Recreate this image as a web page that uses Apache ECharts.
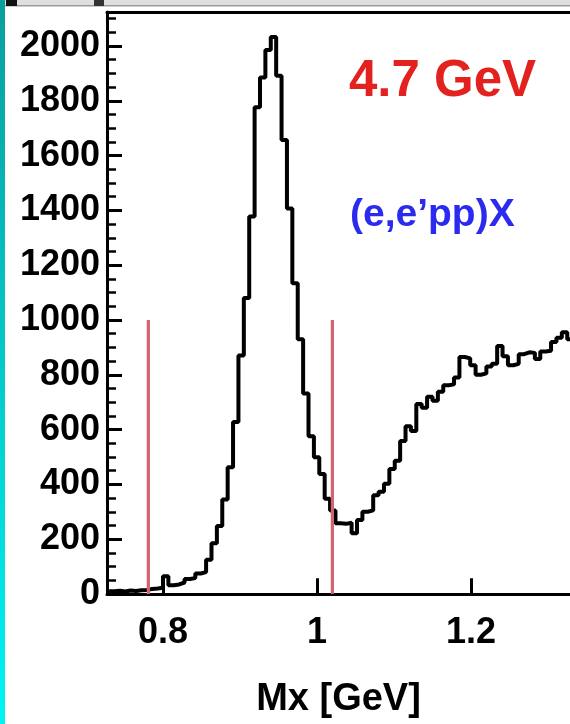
<!DOCTYPE html>
<html>
<head>
<meta charset="utf-8">
<script src="https://cdn.jsdelivr.net/npm/echarts@6/dist/echarts.min.js"></script>
<style>
html,body{margin:0;padding:0;background:#fff;}
#chart{width:570px;height:724px;}
</style>
</head>
<body>
<div id="chart"></div>
<script>
// Histogram of missing mass Mx [GeV] for (e,e'pp)X at 4.7 GeV
const binStart = 0.73;   // GeV, left edge of first visible bin
const binWidth = 0.007;  // GeV
const counts = [
  10, 12, 9, 13, 11, 14, 15, 18, 20, 23,
  65, 32, 35, 42, 55, 58, 75, 80, 125, 185,
  248, 345, 463, 628, 870, 1080, 1378, 1776, 1885, 1985,
  2033, 1891, 1657, 1407, 1134, 930, 732, 576, 499, 438,
  348, 305, 258, 256, 260, 222, 270, 300, 305, 360,
  373, 402, 456, 486, 558, 612, 595, 693, 680, 720,
  705, 738, 762, 765, 790, 865, 860, 835, 800, 805,
  830, 840, 905, 868, 835, 840, 875, 882, 880, 858,
  885, 888, 920, 935, 955, 930
];
const cutLinesX = [0.781, 1.02];
const cutLineHeight = 1000;
const xTickValues = [0.8, 1, 1.2];
const yTickValues = [0, 200, 400, 600, 800, 1000, 1200, 1400, 1600, 1800, 2000];
const yMinorStep = 50;
const xMin = 0.7273, xMax = 1.3286;
const yMin = 0, yMax = 2124;
const beamLabel = '4.7 GeV';
const reactionLabel = '(e,e\u2019pp)X';
const xTitle = 'Mx [GeV]';

const histData = counts.map((c, i) => [binStart + i * binWidth, c]);
histData.push([binStart + counts.length * binWidth, counts[counts.length - 1]]);

const font = '"Liberation Sans", Arial, Helvetica, sans-serif';
const chart = echarts.init(document.getElementById('chart'), null, {renderer: 'canvas'});

// pixel scales of the plot area (only used to express tick lengths in data units)
const plotW = 570 - 107, plotH = 724 - 12 - 122.5;
const xPerPx = (xMax - xMin) / plotW, yPerPx = (yMax - yMin) / plotH;
const xTickLen = 16 * yPerPx, yMajorLen = 15 * xPerPx, yMinorLen = 9 * xPerPx;

const majorTicks = [];
xTickValues.forEach(x => majorTicks.push({coords: [[x, 0], [x, xTickLen]]}));
yTickValues.forEach(y => majorTicks.push({coords: [[xMin, y], [xMin + yMajorLen, y]]}));
const minorTicks = [];
for (let y = yMin + yMinorStep; y < yMax; y += yMinorStep) {
  if (y % 200 !== 0) minorTicks.push({coords: [[xMin, y], [xMin + yMinorLen, y]]});
}

const series = [{
  type: 'line', data: histData, step: 'end', showSymbol: false, symbol: 'none',
  lineStyle: {color: '#000', width: 4}, z: 3, silent: true
}];
cutLinesX.forEach(x => {
  series.push({
    type: 'line', data: [[x, 0], [x, cutLineHeight]], showSymbol: false, symbol: 'none',
    lineStyle: {color: '#d6636b', width: 3.2}, z: 4, silent: true
  });
});
series.push({type: 'lines', coordinateSystem: 'cartesian2d', data: majorTicks,
  lineStyle: {color: '#000', width: 3, opacity: 1}, z: 2, silent: true});
series.push({type: 'lines', coordinateSystem: 'cartesian2d', data: minorTicks,
  lineStyle: {color: '#000', width: 2.5, opacity: 1}, z: 2, silent: true});

chart.setOption({
  animation: false,
  backgroundColor: '#fff',
  grid: {left: 107, right: 0, top: 12, bottom: 122.5, containLabel: false},
  xAxis: [{
    type: 'value', min: xMin, max: xMax, position: 'bottom',
    axisLine: {show: true, onZero: false, lineStyle: {color: '#000', width: 3}},
    axisTick: {show: false},
    axisLabel: {show: true, customValues: xTickValues, margin: 21, color: '#000',
      fontFamily: font, fontWeight: 'bold', fontSize: 36, formatter: v => String(v)},
    splitLine: {show: false},
    name: xTitle, nameLocation: 'middle', nameGap: 87,
    nameTextStyle: {color: '#000', fontFamily: font, fontWeight: 'bold', fontSize: 38}
  }, {
    type: 'value', min: xMin, max: xMax, position: 'top',
    axisLine: {show: true, onZero: false, lineStyle: {color: '#000', width: 3}},
    axisTick: {show: false}, axisLabel: {show: false}, splitLine: {show: false}
  }],
  yAxis: [{
    type: 'value', min: yMin, max: yMax, position: 'left',
    axisLine: {show: true, onZero: false, lineStyle: {color: '#000', width: 3}},
    axisTick: {show: false},
    axisLabel: {show: true, customValues: yTickValues, margin: 7, color: '#000',
      fontFamily: font, fontWeight: 'bold', fontSize: 36, formatter: v => String(v)},
    splitLine: {show: false}
  }],
  graphic: [
    {type: 'rect', shape: {x: 0, y: 0, width: 570, height: 6}, style: {fill: '#dedede'}, z: 10},
    {type: 'rect', shape: {x: 0, y: 5, width: 570, height: 1.5}, style: {fill: '#9a9a9a'}, z: 10},
    {type: 'rect', shape: {x: 6, y: 0, width: 11, height: 6}, style: {fill: '#111'}, z: 11},
    {type: 'rect', shape: {x: 94, y: 0, width: 10, height: 6}, style: {fill: '#333'}, z: 11},
    {type: 'rect', shape: {x: 0, y: 0, width: 5, height: 724},
      style: {fill: new echarts.graphic.LinearGradient(0, 0, 0, 1, [
        {offset: 0, color: '#0a9e9e'}, {offset: 1, color: '#00f4f4'}])}, z: 12},
    {type: 'text', left: 349, top: 56, z: 20,
      style: {text: beamLabel, fill: '#e3221f', font: 'bold 51px ' + font}},
    {type: 'text', left: 350, top: 196, z: 20,
      style: {text: reactionLabel, fill: '#2b2bf0', font: 'bold 39px ' + font}}
  ],
  series: series.map(s => Object.assign(s, {xAxisIndex: 0, yAxisIndex: 0}))
});
</script>
</body>
</html>
